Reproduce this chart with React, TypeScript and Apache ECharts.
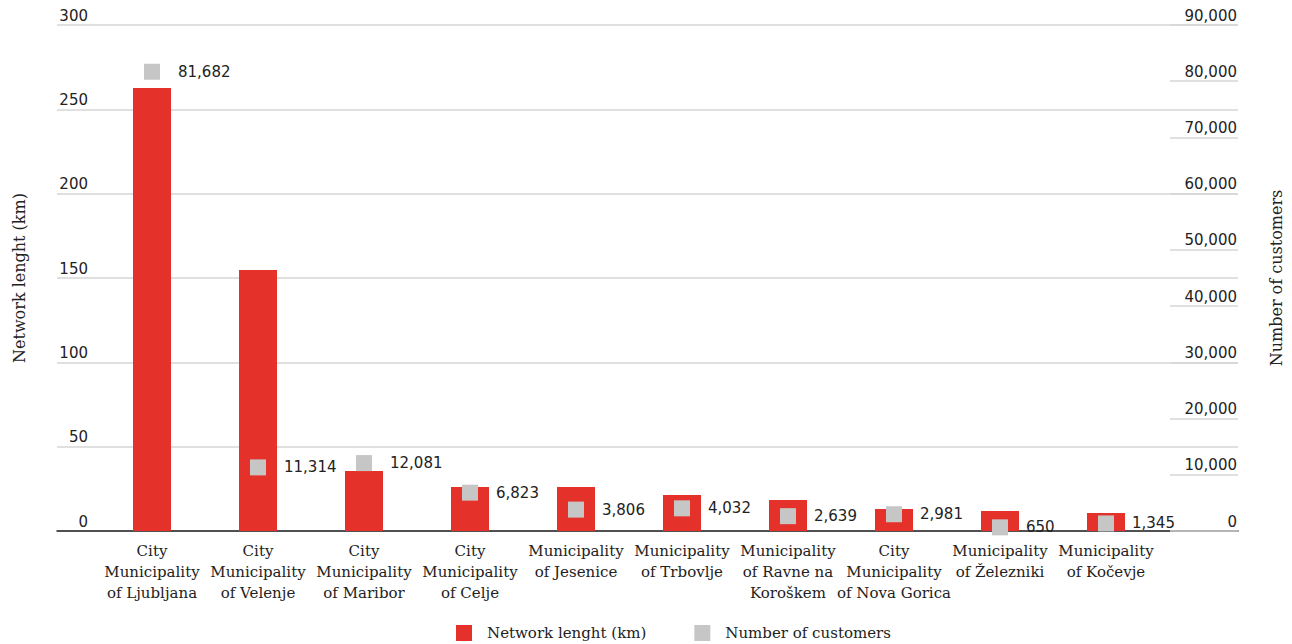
import React, { useEffect, useRef } from "react";
import * as echarts from "echarts";

const categories = [
  "City\nMunicipality\nof Ljubljana",
  "City\nMunicipality\nof Velenje",
  "City\nMunicipality\nof Maribor",
  "City\nMunicipality\nof Celje",
  "Municipality\nof Jesenice",
  "Municipality\nof Trbovlje",
  "Municipality\nof Ravne na\nKoroškem",
  "City\nMunicipality\nof Nova Gorica",
  "Municipality\nof Železniki",
  "Municipality\nof Kočevje",
];

const networkLength = [262.6, 154.7, 35.6, 26.1, 26.1, 21.3, 18.4, 13.0, 11.9, 10.7];
const customers = [81682, 11314, 12081, 6823, 3806, 4032, 2639, 2981, 650, 1345];

const seriesNames = ["Network lenght (km)", "Number of customers"];
const leftAxisName = "Network lenght (km)";
const rightAxisName = "Number of customers";

const RED = "#e4322b";
const GRAY = "#c6c6c6";
const TEXT = "#222222";
const SANS = "DejaVu Sans";
const SERIF = "DejaVu Serif";

const fmt = (v: number) => v.toLocaleString("en-US");

export default function App() {
  const ref = useRef<HTMLDivElement>(null);

  useEffect(() => {
    if (!ref.current) return;
    const chart = echarts.init(ref.current, undefined, { renderer: "svg" });
    chart.setOption({
      animation: false,
      backgroundColor: "#ffffff",
      legend: {
        left: 456,
        top: 625,
        padding: 0,
        itemWidth: 16,
        itemHeight: 16,
        itemGap: 48,
        icon: "rect",
        textStyle: {
          fontFamily: SERIF,
          fontSize: 15,
          color: TEXT,
          padding: [0, 0, 0, 10],
        },
        data: seriesNames,
      },
      grid: [
        { left: 57, right: 54, top: 25, bottom: 113 },
        { left: 99, right: 133, top: 25, bottom: 113 },
      ],
      xAxis: [
        {
          gridIndex: 0,
          type: "value",
          min: 0,
          max: 1,
          axisLine: { show: true, lineStyle: { color: TEXT, width: 1.5 } },
          axisTick: { show: false },
          axisLabel: { show: false },
          splitLine: { show: false },
        },
        {
          gridIndex: 1,
          type: "category",
          data: categories,
          axisLine: { show: false },
          axisTick: { show: false },
          axisLabel: {
            interval: 0,
            margin: 9,
            fontFamily: SERIF,
            fontSize: 15,
            lineHeight: 21,
            color: TEXT,
          },
        },
      ],
      yAxis: [
        {
          gridIndex: 0,
          type: "value",
          position: "left",
          min: 0,
          max: 300,
          interval: 50,
          name: leftAxisName,
          nameLocation: "middle",
          nameRotate: 90,
          nameGap: 30,
          nameTextStyle: { fontFamily: SERIF, fontSize: 16, color: TEXT },
          axisLine: { show: false },
          axisTick: { show: false },
          axisLabel: {
            inside: true,
            margin: 31,
            align: "right",
            verticalAlign: "bottom",
            padding: [0, 0, 2, 0],
            fontFamily: SANS,
            fontSize: 15,
            color: TEXT,
          },
          splitLine: { show: true, lineStyle: { color: "#d6d6d6", width: 1.5 } },
        },
        {
          gridIndex: 0,
          type: "value",
          position: "right",
          min: 0,
          max: 90000,
          interval: 10000,
          name: rightAxisName,
          nameLocation: "middle",
          nameRotate: 90,
          nameGap: 30,
          nameTextStyle: { fontFamily: SERIF, fontSize: 16, color: TEXT },
          axisLine: { show: false },
          axisTick: {
            show: true,
            inside: true,
            length: 68,
            lineStyle: { color: "#d6d6d6", width: 1.5 },
          },
          axisLabel: {
            inside: true,
            margin: 1,
            align: "right",
            verticalAlign: "bottom",
            padding: [0, 0, 2, 0],
            fontFamily: SANS,
            fontSize: 15,
            color: TEXT,
            formatter: (v: number) => fmt(v),
          },
          splitLine: { show: false },
        },
        {
          gridIndex: 1,
          type: "value",
          min: 0,
          max: 300,
          show: false,
        },
        {
          gridIndex: 1,
          type: "value",
          min: 0,
          max: 90000,
          show: false,
        },
      ],
      series: [
        {
          name: seriesNames[0],
          type: "bar",
          xAxisIndex: 1,
          yAxisIndex: 2,
          data: networkLength,
          barWidth: 38,
          itemStyle: { color: RED },
        },
        {
          name: seriesNames[1],
          type: "scatter",
          xAxisIndex: 1,
          yAxisIndex: 3,
          data: customers,
          symbol: "rect",
          symbolSize: 16,
          itemStyle: { color: GRAY, opacity: 1 },
          label: {
            show: true,
            position: "right",
            distance: 18,
            fontFamily: SANS,
            fontSize: 15,
            color: TEXT,
            formatter: (p: any) => fmt(p.value),
          },
          z: 5,
        },
      ],
    });
    return () => chart.dispose();
  }, []);

  return (
    <div
      ref={ref}
      style={{ position: "fixed", left: 0, top: 0, width: 1292, height: 644 }}
    />
  );
}
